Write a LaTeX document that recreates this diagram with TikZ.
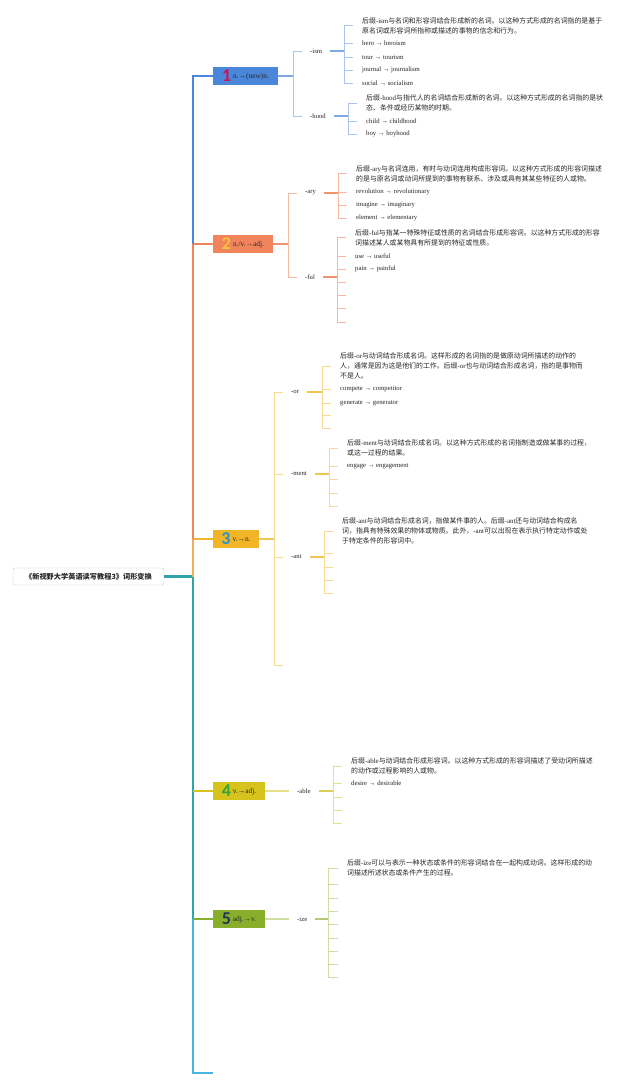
\documentclass[tikz,border=0pt]{standalone}
\usepackage{fontspec}
\setmainfont{Liberation Serif}
\newfontfamily\cjk{Noto Sans CJK SC}
\newfontfamily\numf{Carlito}
\definecolor{txt}{HTML}{262626}
\definecolor{cA}{HTML}{4A86DA}
\definecolor{lA}{HTML}{A9C5EE}
\definecolor{dA}{HTML}{7FA8E6}
\definecolor{nA}{HTML}{C2185B}
\definecolor{cB}{HTML}{F0855B}
\definecolor{lB}{HTML}{F5B8A0}
\definecolor{dB}{HTML}{EE9370}
\definecolor{nB}{HTML}{F9C33D}
\definecolor{cC}{HTML}{F2B527}
\definecolor{lC}{HTML}{F6D993}
\definecolor{dC}{HTML}{F2C451}
\definecolor{vC}{HTML}{F2AC62}
\definecolor{nC}{HTML}{2B95C8}
\definecolor{cD}{HTML}{D6C41C}
\definecolor{lD}{HTML}{E8DF8A}
\definecolor{dD}{HTML}{DDCF55}
\definecolor{nD}{HTML}{36A336}
\definecolor{cE}{HTML}{89AE2C}
\definecolor{lE}{HTML}{CFDDA6}
\definecolor{dE}{HTML}{B3CB78}
\definecolor{nE}{HTML}{1D3557}
\definecolor{tealT}{HTML}{2FA3A8}
\definecolor{cyanT}{HTML}{45B5E3}
\definecolor{rootB}{HTML}{C8C8C8}
\newcommand\zs{\cjk\fontsize{6.9}{10.2}\selectfont}
\newcommand\ls{\rmfamily\fontsize{6.7}{8}\selectfont}
\newcommand\bs{\rmfamily\fontsize{7.4}{8}\selectfont}
\newcommand\bignum[2]{{\color{#1}\numf\bfseries\fontsize{18}{18}\selectfont #2}\hspace{2pt}}
\tikzset{
  every node/.style={text=txt},
  desc/.style={anchor=west, inner xsep=9pt, inner ysep=1pt, align=left, font=\zs},
  item/.style={anchor=west, inner xsep=9pt, inner ysep=1pt, font=\ls},
  lab/.style={anchor=west, inner xsep=8pt, inner ysep=1pt, font=\ls},
  mainbox/.style={minimum height=18pt, inner sep=0pt, font=\bs},
  trunk/.style={line width=2.4pt},
  br/.style={line width=0.8pt},
  con/.style={line width=1.3pt},
}
\begin{document}
\begin{tikzpicture}[x=1pt,y=-1pt]
\useasboundingbox (0,0) rectangle (640,1086);
\fill[white] (0,0) rectangle (640,1086);

% root
\node[draw=rootB, fill=white, rounded corners=2pt, minimum width=151pt, minimum height=17pt, inner sep=0pt, font=\cjk\bfseries\fontsize{7.2}{8}\selectfont] (root) at (88.5,576.5) {《新视野大学英语读写教程3》词形变换};

% trunk coordinates
\coordinate (t3) at (193,539);
\coordinate (tr) at (193,576.5);
\coordinate (t5) at (193,919);
\coordinate (t6) at (213,1073);

% main boxes
\node[mainbox, fill=cA, minimum width=65pt] (b1) at (245.5,76) {\bignum{nA}{1}\raisebox{3.5pt}{n.→(new)n.}};
\node[mainbox, fill=cB, minimum width=60pt] (b2) at (243,244) {\bignum{nB}{2}\raisebox{3.5pt}{n./v.→adj.}};
\node[mainbox, fill=cC, minimum width=46pt] (b3) at (236,539) {\bignum{nC}{3}\raisebox{3.5pt}{v.→n.}};
\node[mainbox, fill=cD, minimum width=52pt] (b4) at (239,791) {\bignum{nD}{4}\raisebox{3.5pt}{v.→adj.}};
\node[mainbox, fill=cE, minimum width=52pt] (b5) at (239,919) {\bignum{nE}{5}\raisebox{3.5pt}{adj.→v.}};

% trunk
\draw[trunk, tealT] (root.east) -| (t5);
\draw[trunk, vC] (tr) -- (t3);
\draw[trunk, cC] (t3) -- (b3.west);
\draw[trunk, cB] (t3) |- (b2.west);
\draw[trunk, cA] (b2.west -| t3) |- (b1.west);
\draw[trunk, cD] (b4.west -| t3) -- (b4.west);
\draw[trunk, cE] (t5) -- (b5.west);
\draw[trunk, cyanT] (t5) |- (t6);

% ===== branch 1
\coordinate (j1) at (293,76);
\node[lab] (ism) at (302,51) {-ism};
\node[lab] (hood) at (302,116) {-hood};
\draw[con, dA] (b1.east) -- (j1);
\draw[br, lA] (j1) |- (ism.west);
\draw[br, lA] (j1) |- (hood.west);
\coordinate (jism) at (344,51);
\draw[con, dA] (ism.east) -- (jism);
\node[desc] (ismd) at (353,25.5) {后缀\textrm{-ism}与名词和形容词结合形成新的名词。以这种方式形成的名词指的是基于\\原名词或形容词所指称或描述的事物的信念和行为。};
\node[item] (ism1) at (353,43) {hero → heroism};
\node[item] (ism2) at (353,57) {tour → tourism};
\node[item] (ism3) at (353,70) {journal → journalism};
\node[item] (ism4) at (353,83) {social → socialism};
\foreach \n in {ismd,ism1,ism2,ism3,ism4} \draw[br, lA] (jism) |- (\n.west);
\coordinate (jhood) at (348,116);
\draw[con, dA] (hood.east) -- (jhood);
\node[desc] (hoodd) at (357,103) {后缀\textrm{-hood}与指代人的名词结合形成新的名词。以这种方式形成的名词指的是状\\态、条件或经历某物的时期。};
\node[item] (hood1) at (357,121) {child → childhood};
\node[item] (hood2) at (357,134) {boy → boyhood};
\foreach \n in {hoodd,hood1,hood2} \draw[br, lA] (jhood) |- (\n.west);

% ===== branch 2
\coordinate (j2) at (288,244);
\node[lab] (ary) at (297,193) {-ary};
\node[lab] (ful) at (297,277) {-ful};
\draw[con, dB] (b2.east) -- (j2);
\draw[br, lB] (j2) |- (ary.west);
\draw[br, lB] (j2) |- (ful.west);
\coordinate (jary) at (338,193);
\draw[con, dB] (ary.east) -- (jary);
\node[desc] (aryd) at (347,173.5) {后缀\textrm{-ary}与名词连用，有时与动词连用构成形容词。以这种方式形成的形容词描述\\的是与原名词或动词所提到的事物有联系、涉及或具有其某些特征的人或物。};
\node[item] (ary1) at (347,192) {revolution → revolutionary};
\node[item] (ary2) at (347,205) {imagine → imaginary};
\node[item] (ary3) at (347,218) {element → elementary};
\foreach \n in {aryd,ary1,ary2,ary3} \draw[br, lB] (jary) |- (\n.west);
\coordinate (jful) at (337,277);
\draw[con, dB] (ful.east) -- (jful);
\node[desc] (fuld) at (346,237.5) {后缀\textrm{-ful}与指某一特殊特征或性质的名词结合形成形容词。以这种方式形成的形容\\词描述某人或某物具有所提到的特征或性质。};
\node[item] (ful1) at (346,256) {use → useful};
\node[item] (ful2) at (346,269) {pain → painful};
\coordinate (fulE1) at (346,282);
\coordinate (fulE2) at (346,295);
\coordinate (fulE3) at (346,308);
\coordinate (fulE4) at (346,322);
\foreach \n in {fuld,ful1,ful2} \draw[br, lB] (jful) |- (\n.west);
\foreach \n in {fulE1,fulE2,fulE3,fulE4} \draw[br, lB] (jful) |- (\n);

% ===== branch 3
\coordinate (j3) at (274,539);
\node[lab] (or) at (283,392) {-or};
\node[lab] (ment) at (283,474) {-ment};
\node[lab] (ant) at (283,557) {-ant};
\coordinate (b3E) at (283,665);
\draw[con, dC] (b3.east) -- (j3);
\foreach \n in {or,ment,ant} \draw[br, lC] (j3) |- (\n.west);
\draw[br, lC] (j3) |- (b3E);
\coordinate (jor) at (322,392);
\draw[con, dC] (or.east) -- (jor);
\node[desc] (ord) at (331,366) {后缀\textrm{-or}与动词结合形成名词。这样形成的名词指的是做原动词所描述的动作的\\人，通常是因为这是他们的工作。后缀\textrm{-or}也与动词结合形成名词，指的是事物而\\不是人。};
\node[item] (or1) at (331,389) {compete → competitor};
\node[item] (or2) at (331,403) {generate → generator};
\coordinate (orE1) at (331,415);
\coordinate (orE2) at (331,428);
\foreach \n in {ord,or1,or2} \draw[br, lC] (jor) |- (\n.west);
\foreach \n in {orE1,orE2} \draw[br, lC] (jor) |- (\n);
\coordinate (jment) at (329,474);
\draw[con, dC] (ment.east) -- (jment);
\node[desc] (mentd) at (338,448) {后缀\textrm{-ment}与动词结合形成名词。以这种方式形成的名词指制造或做某事的过程，\\或这一过程的结果。};
\node[item] (ment1) at (338,466) {engage → engagement};
\coordinate (mentE1) at (338,479);
\coordinate (mentE2) at (338,493);
\coordinate (mentE3) at (338,506);
\foreach \n in {mentd,ment1} \draw[br, lC] (jment) |- (\n.west);
\foreach \n in {mentE1,mentE2,mentE3} \draw[br, lC] (jment) |- (\n);
\coordinate (jant) at (324,557);
\draw[con, dC] (ant.east) -- (jant);
\node[desc] (antd) at (333,531) {后缀\textrm{-ant}与动词结合形成名词，指做某件事的人。后缀\textrm{-ant}还与动词结合构成名\\词，指具有特殊效果的物体或物质。此外，\textrm{-ant}可以出现在表示执行特定动作或处\\于特定条件的形容词中。};
\coordinate (antE1) at (333,553);
\coordinate (antE2) at (333,567);
\coordinate (antE3) at (333,580);
\coordinate (antE4) at (333,593);
\draw[br, lC] (jant) |- (antd.west);
\foreach \n in {antE1,antE2,antE3,antE4} \draw[br, lC] (jant) |- (\n);

% ===== branch 4
\node[lab] (able) at (289,791) {-able};
\draw[con, lD] (b4.east) -- (able.west);
\coordinate (jable) at (333,791);
\draw[con, dD] (able.east) -- (jable);
\node[desc] (abled) at (342,766) {后缀\textrm{-able}与动词结合形成形容词。以这种方式形成的形容词描述了受动词所描述\\的动作或过程影响的人或物。};
\node[item] (able1) at (342,783.5) {desire → desirable};
\coordinate (ableE1) at (342,797);
\coordinate (ableE2) at (342,810);
\coordinate (ableE3) at (342,823);
\foreach \n in {abled,able1} \draw[br, lD] (jable) |- (\n.west);
\foreach \n in {ableE1,ableE2,ableE3} \draw[br, lD] (jable) |- (\n);

% ===== branch 5
\node[lab] (ize) at (289,919) {-ize};
\draw[con, lE] (b5.east) -- (ize.west);
\coordinate (jize) at (328,919);
\draw[con, dE] (ize.east) -- (jize);
\node[desc] (ized) at (338,868) {后缀\textrm{-ize}可以与表示一种状态或条件的形容词结合在一起构成动词。这样形成的动\\词描述所述状态或条件产生的过程。};
\draw[br, lE] (jize) |- (ized.west);
\foreach \y [count=\i] in {884,898,911,924,938,951,964,977} {
  \coordinate (izeE\i) at (338,\y);
  \draw[br, lE] (jize) |- (izeE\i);
}
\end{tikzpicture}
\end{document}
